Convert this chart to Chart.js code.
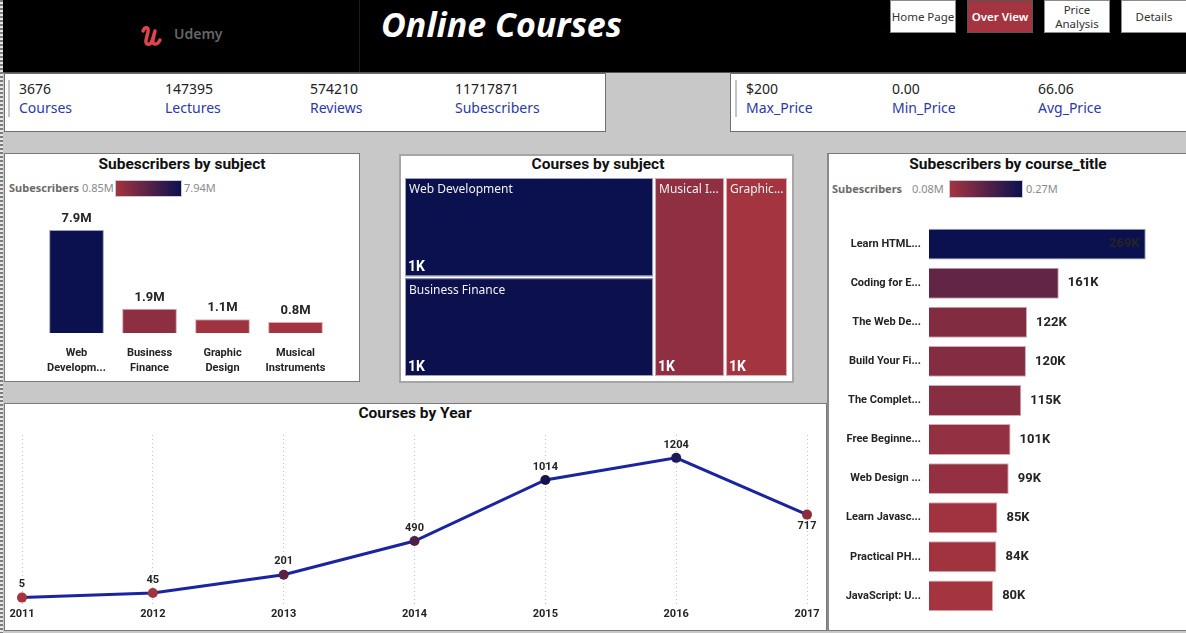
<!DOCTYPE html>
<html>
<head>
<meta charset="utf-8">
<title>Online Courses</title>
<script src="https://cdn.jsdelivr.net/npm/chart.js@4.4.1/dist/chart.umd.min.js"></script>
<style>
  body { margin: 0; width: 1186px; height: 633px; background: #c8c8c8; position: relative; overflow: hidden; font-family: "Noto Sans", "Open Sans", sans-serif; }
  .abs { position: absolute; }
  .strip { left: 0; top: 0; width: 3px; height: 633px; background: repeating-linear-gradient(to bottom, #7d7d7d 0 2px, #e6e6e6 2px 4px); }
  .header { left: 3px; top: 0; width: 1183px; height: 72px; background: #000; border-bottom: 1px solid #555; }
  .sep { left: 359px; top: 0; width: 1px; height: 72px; background: #1c1c1c; }
  .btn { top: 0; width: 66px; height: 33px; box-sizing: border-box; background: #fff; border: 1px solid #8c8c8c; font-size: 11.5px; color: #333; display: flex; align-items: center; justify-content: center; text-align: center; line-height: 14px; white-space: nowrap; }
  .card { top: 73px; height: 59px; background: #fff; border: 1px solid #6f6f6f; box-sizing: border-box; }
  .accent { width: 2px; height: 37px; top: 80px; background: #c4c4c4; }
  .kv { font-size: 14px; color: #222; top: 80px; line-height: 18px; }
  .kl { font-size: 14px; color: #2b39a5; top: 99px; line-height: 18px; }
  .panel { background: #fff; box-sizing: border-box; border: 1px solid #7a7a7a; }
  .title { font-family: Roboto, sans-serif; font-weight: bold; font-size: 15.5px; color: #111; transform: translateX(-50%); white-space: nowrap; line-height: 18px; }
  .lg { font-size: 11px; line-height: 14px; color: #8a8a8a; white-space: nowrap; }
  .lgb { font-weight: bold; color: #6b6b6b; }
  .grad { background: linear-gradient(to right, #a4343f, #0b114e); height: 17px; box-sizing: border-box; border: 1px solid #c9c9d6; }
</style>
</head>
<body>
<div class="abs strip"></div>
<div class="abs header"></div>
<div class="abs sep"></div>
<svg class="abs" style="left:140px;top:22px" width="28" height="26" viewBox="0 0 28 26">
  <path d="M3 9 C5 4 9 5 8 10 L6 18 C5 23 10 24 12 19 L15 9 M15 9 L13 18 C12 23 17 24 20 18" fill="none" stroke="#e0444e" stroke-width="3.4" stroke-linecap="round" stroke-linejoin="round"/>
</svg>
<div class="abs" style="left:174px;top:25px;font-size:14px;font-weight:600;color:#666;line-height:18px">Udemy</div>
<div class="abs" style="left:381px;top:2px;font-size:34px;font-weight:bold;font-style:italic;color:#fff;line-height:44px;white-space:nowrap">Online Courses</div>

<div class="abs btn" style="left:890px">Home Page</div>
<div class="abs btn" style="left:967px;background:#a4343f;color:#fff;font-weight:600;border-color:#555">Over View</div>
<div class="abs btn" style="left:1044px">Price<br>Analysis</div>
<div class="abs btn" style="left:1121px">Details</div>

<div class="abs card" style="left:4px;width:602px"></div>
<div class="abs accent" style="left:8px"></div>
<div class="abs kv" style="left:19px">3676</div><div class="abs kl" style="left:19px">Courses</div>
<div class="abs kv" style="left:165px">147395</div><div class="abs kl" style="left:165px">Lectures</div>
<div class="abs kv" style="left:310px">574210</div><div class="abs kl" style="left:310px">Reviews</div>
<div class="abs kv" style="left:455px">11717871</div><div class="abs kl" style="left:455px">Subescribers</div>

<div class="abs card" style="left:730px;width:460px"></div>
<div class="abs accent" style="left:735px"></div>
<div class="abs kv" style="left:746px">$200</div><div class="abs kl" style="left:746px">Max_Price</div>
<div class="abs kv" style="left:892px">0.00</div><div class="abs kl" style="left:892px">Min_Price</div>
<div class="abs kv" style="left:1038px">66.06</div><div class="abs kl" style="left:1038px">Avg_Price</div>

<div class="abs panel" style="left:4px;top:153px;width:356px;height:229px"></div>
<div class="abs title" style="left:182px;top:155px">Subescribers by subject</div>
<div class="abs lg lgb" style="left:9px;top:181px">Subescribers</div>
<div class="abs lg" style="left:82px;top:181px">0.85M</div>
<div class="abs grad" style="left:115px;top:180px;width:67px"></div>
<div class="abs lg" style="left:184px;top:181px">7.94M</div>
<canvas id="subjectChart" class="abs" style="left:4px;top:200px" width="355" height="181"></canvas>

<div class="abs panel" style="left:399px;top:154px;width:395px;height:229px;border:2px solid #a6a6a6"></div>
<div class="abs title" style="left:598px;top:155px">Courses by subject</div>
<canvas id="treemapChart" class="abs" style="left:404px;top:177px" width="384" height="200"></canvas>

<div class="abs panel" style="left:827px;top:153px;width:362px;height:478px;border-left:2px solid #8a8a8a"></div>
<div class="abs title" style="left:1008px;top:155px">Subescribers by course_title</div>
<div class="abs lg lgb" style="left:832px;top:182px">Subescribers</div>
<div class="abs lg" style="left:912px;top:182px">0.08M</div>
<div class="abs grad" style="left:949px;top:180px;width:74px;height:18px"></div>
<div class="abs lg" style="left:1026px;top:182px">0.27M</div>
<canvas id="courseChart" class="abs" style="left:827px;top:210px" width="359" height="420"></canvas>

<div class="abs panel" style="left:4px;top:403px;width:823px;height:228px"></div>
<div class="abs title" style="left:415px;top:404px">Courses by Year</div>
<canvas id="yearChart" class="abs" style="left:4px;top:425px" width="822" height="205"></canvas>

<script>
// Subscribers by subject (millions)
const subjectLabels = [['Web', 'Developm...'], ['Business', 'Finance'], ['Graphic', 'Design'], ['Musical', 'Instruments']];
const subscribersBySubject = [7.94, 1.87, 1.06, 0.85];

// Courses by subject (treemap)
const treemapSubjects = ['Web Development', 'Business Finance', 'Musical Instruments', 'Graphic Design'];
const coursesBySubject = [1200, 1195, 680, 603];
const treemapColumns = [[0, 1], [2], [3]];

// Subscribers by course title (thousands)
const courseTitles = ['Learn HTML...', 'Coding for E...', 'The Web De...', 'Build Your Fi...', 'The Complet...',
  'Free Beginne...', 'Web Design ...', 'Learn Javasc...', 'Practical PH...', 'JavaScript: U...'];
const subscribersByCourse = [268.9, 161.0, 121.6, 120.3, 114.5, 101.2, 98.9, 84.9, 83.7, 79.6];

// Courses by year
const years = ['2011', '2012', '2013', '2014', '2015', '2016', '2017'];
const coursesByYear = [5, 45, 201, 490, 1014, 1204, 717];
const yearPointColors = ['#a4343f', '#a0343f', '#5a2244', '#4b1f48', '#14154e', '#1c1a54', '#8e2c40'];

Chart.defaults.font.family = 'Roboto, "Noto Sans", sans-serif';
Chart.defaults.color = '#252423';
Chart.defaults.animation = false;
Chart.defaults.plugins.legend.display = false;
Chart.defaults.plugins.tooltip.enabled = false;

const RED = [164, 52, 63], NAVY = [11, 17, 78];
function shade(v, lo, hi, light) {
  const t = Math.max(0, Math.min(1, (v - lo) / (hi - lo)));
  let c = RED.map((r, i) => r + (NAVY[i] - r) * t);
  if (light) c = c.map(x => x + (255 - x) * light);
  return 'rgb(' + c.map(Math.round).join(',') + ')';
}

// draws a text label for each point of dataset 0
function labelPlugin(font, place, format) {
  return {
    id: 'labels',
    afterDatasetsDraw(chart) {
      const ctx = chart.ctx;
      const data = chart.data.datasets[0].data;
      ctx.save();
      ctx.font = font;
      ctx.fillStyle = '#252423';
      ctx.textBaseline = 'middle';
      chart.getDatasetMeta(0).data.forEach((el, i) => {
        const text = format(data[i]);
        const p = place(chart, el, i, ctx.measureText(text).width);
        ctx.textAlign = p.align;
        ctx.fillText(text, p.x, p.y);
      });
      ctx.restore();
    }
  };
}

// Subescribers by subject
const subjMin = Math.min(...subscribersBySubject), subjMax = Math.max(...subscribersBySubject);
new Chart(document.getElementById('subjectChart'), {
  type: 'bar',
  data: {
    labels: subjectLabels,
    datasets: [{
      data: subscribersBySubject,
      backgroundColor: c => shade(c.raw, subjMin, subjMax),
      borderColor: c => shade(c.raw, subjMin, subjMax, 0.6),
      borderWidth: 1,
      categoryPercentage: 0.75,
      barPercentage: 1
    }]
  },
  options: {
    responsive: false,
    layout: { padding: { left: 36, right: 27, top: 0, bottom: 0 } },
    scales: {
      x: {
        grid: { display: false, drawTicks: false },
        border: { display: false },
        ticks: { font: { weight: 'bold', size: 11, lineHeight: 1.35 }, padding: 13, maxRotation: 0, autoSkip: false },
        afterFit: s => { s.height = 48; }
      },
      y: { display: false, min: 0, max: 10.25 }
    }
  },
  plugins: [labelPlugin('bold 13px Roboto', (ch, el) => ({ x: el.x, y: el.y - 11, align: 'center' }), v => v.toFixed(1) + 'M')]
});

// Courses by subject (treemap laid out on linear scales)
const tmMin = Math.min(...coursesBySubject), tmMax = Math.max(...coursesBySubject);
const tmTotal = coursesBySubject.reduce((s, v) => s + v, 0);
function fitText(ctx, text, maxW) {
  if (ctx.measureText(text).width <= maxW) return text;
  let t = text;
  while (t.length > 1 && ctx.measureText(t + '...').width > maxW) t = t.slice(0, -1);
  return t.trimEnd() + '...';
}
const treemapPlugin = {
  id: 'treemap',
  afterDatasetsDraw(chart) {
    const { ctx, scales: { x, y } } = chart;
    let cx = 0;
    ctx.save();
    treemapColumns.forEach(col => {
      const colSum = col.reduce((s, i) => s + coursesBySubject[i], 0);
      let cy = 0;
      col.forEach(i => {
        const v = coursesBySubject[i];
        const l = x.getPixelForValue(cx), r = x.getPixelForValue(cx + colSum);
        const t = y.getPixelForValue(cy), b = y.getPixelForValue(cy + v / colSum);
        ctx.fillStyle = shade(v, tmMin, tmMax);
        ctx.fillRect(l + 1, t + 1, r - l - 2, b - t - 2);
        ctx.strokeStyle = shade(v, tmMin, tmMax, 0.6);
        ctx.lineWidth = 1;
        ctx.strokeRect(l + 1.5, t + 1.5, r - l - 3, b - t - 3);
        ctx.fillStyle = '#f2f2f2';
        ctx.textAlign = 'left';
        ctx.textBaseline = 'middle';
        ctx.font = '12px "Noto Sans"';
        ctx.fillText(fitText(ctx, treemapSubjects[i], r - l - 8), l + 5, t + 13);
        ctx.fillStyle = '#ffffff';
        ctx.font = 'bold 14px Roboto';
        ctx.fillText(Math.round(v / 1000) + 'K', l + 4, b - 10);
        cy += v / colSum;
      });
      cx += colSum;
    });
    ctx.restore();
  }
};
new Chart(document.getElementById('treemapChart'), {
  type: 'scatter',
  data: { datasets: [{ data: [] }] },
  options: {
    responsive: false,
    layout: { padding: 0 },
    scales: {
      x: { display: false, min: 0, max: tmTotal },
      y: { display: false, min: 0, max: 1, reverse: true }
    }
  },
  plugins: [treemapPlugin]
});

// Subescribers by course_title
const crMin = Math.min(...subscribersByCourse), crMax = Math.max(...subscribersByCourse);
new Chart(document.getElementById('courseChart'), {
  type: 'bar',
  data: {
    labels: courseTitles,
    datasets: [{
      data: subscribersByCourse,
      backgroundColor: c => shade(c.raw, crMin, crMax),
      borderColor: c => shade(c.raw, crMin, crMax, 0.6),
      borderWidth: 1,
      categoryPercentage: 0.79,
      barPercentage: 1
    }]
  },
  options: {
    indexAxis: 'y',
    responsive: false,
    layout: { padding: { left: 0, right: 16, top: 13.5, bottom: 7 } },
    scales: {
      x: { display: false, min: 0, max: 299 },
      y: {
        grid: { display: false, drawTicks: false },
        border: { display: false },
        ticks: { font: { weight: 'bold', size: 11 }, padding: 8, autoSkip: false },
        afterFit: s => { s.width = 102; }
      }
    }
  },
  plugins: [labelPlugin('bold 13px Roboto', (ch, el, i, w) => {
    if (el.x + 9 + w > ch.chartArea.right) return { x: el.x - 6, y: el.y, align: 'right' };
    return { x: el.x + 9, y: el.y, align: 'left' };
  }, v => Math.round(v) + 'K')]
});

// Courses by Year
new Chart(document.getElementById('yearChart'), {
  type: 'line',
  data: {
    labels: years,
    datasets: [{
      data: coursesByYear,
      borderColor: '#1b24a0',
      borderWidth: 3,
      pointRadius: 5,
      pointHoverRadius: 5,
      pointBackgroundColor: yearPointColors,
      pointBorderWidth: 0,
      tension: 0,
      clip: false
    }]
  },
  options: {
    responsive: false,
    layout: { padding: { left: 18, right: 19, top: 10, bottom: 0 } },
    scales: {
      x: {
        offset: false,
        grid: { color: '#c4c4c4', lineWidth: 1, drawTicks: false },
        border: { display: false, dash: [1, 3] },
        ticks: { font: { weight: 'bold', size: 11 }, padding: 4 },
        afterFit: s => { s.height = 26; }
      },
      y: { display: false, min: -50, max: 1400 }
    }
  },
  plugins: [labelPlugin('bold 11px Roboto', (ch, el, i) => {
    const down = i > 0 && coursesByYear[i] < coursesByYear[i - 1];
    return { x: el.x, y: down ? el.y + 12 : el.y - 13, align: 'center' };
  }, v => String(v))]
});
</script>
</body>
</html>
